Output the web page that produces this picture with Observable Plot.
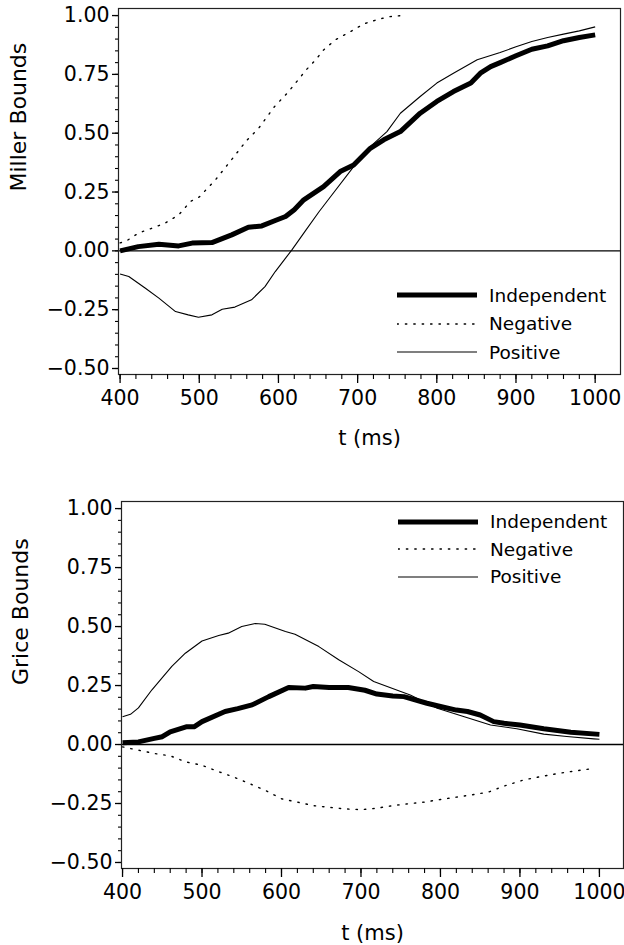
<!DOCTYPE html>
<html>
<head>
<meta charset="utf-8">
<script src="https://cdn.jsdelivr.net/npm/d3@7"></script>
<script src="https://cdn.jsdelivr.net/npm/@observablehq/plot@0.6"></script>
<style>
  body { margin: 0; background: #fff; font-family: "DejaVu Sans", sans-serif; }
  .panel { position: relative; width: 624px; }
  .panel svg text { font-family: "DejaVu Sans", sans-serif !important; }
  .legend { position: absolute; font-size: 18.5px; color: #000; }
  .legend .row { display: flex; align-items: center; }
  .legend svg { display: block; margin-right: 12px; }
</style>
</head>
<body>
<div id="topPanel" class="panel"></div>
<div id="bottomPanel" class="panel"></div>
<script>
// ---- tick values ----
const yMajor = [-0.5, -0.25, 0, 0.25, 0.5, 0.75, 1.0];
const yMinor = d3.range(-0.5, 1.0001, 0.05);
const xMajor = [400, 500, 600, 700, 800, 900, 1000];
const xMinor = d3.range(400, 1001, 20);
const seriesNames = ["Independent", "Negative", "Positive"];
const xTitle = "t (ms)";
const yTitles = ["Miller Bounds", "Grice Bounds"];

// ---- Miller bounds (top panel) ----
const millerIndepT = [400, 423, 449, 474, 491, 516, 541, 562, 579, 596, 609, 620, 632, 657, 678, 695, 716, 733, 754, 779, 800, 821, 843, 855, 868, 880, 900, 920, 940, 960, 980, 1000];
const millerIndepV = [0.000, 0.018, 0.028, 0.021, 0.033, 0.035, 0.068, 0.100, 0.106, 0.129, 0.146, 0.175, 0.217, 0.273, 0.337, 0.365, 0.436, 0.472, 0.507, 0.585, 0.635, 0.677, 0.713, 0.755, 0.783, 0.800, 0.829, 0.857, 0.871, 0.893, 0.907, 0.918];

const millerNegT = [400, 407, 423, 440, 457, 474, 489, 500, 520, 540, 560, 575, 595, 613, 619, 625, 635, 647, 657, 672, 689, 708, 727, 740, 755];
const millerNegV = [0.034, 0.040, 0.075, 0.096, 0.118, 0.153, 0.210, 0.229, 0.300, 0.384, 0.470, 0.521, 0.613, 0.677, 0.703, 0.727, 0.769, 0.812, 0.854, 0.897, 0.928, 0.965, 0.985, 0.995, 1.000];

const millerPosT = [400, 411, 432, 449, 470, 486, 499, 516, 529, 545, 566, 583, 596, 609, 617, 634, 651, 666, 695, 716, 737, 754, 779, 800, 821, 851, 880, 900, 920, 940, 960, 980, 1000];
const millerPosV = [-0.098, -0.109, -0.159, -0.201, -0.258, -0.272, -0.282, -0.272, -0.248, -0.239, -0.208, -0.152, -0.088, -0.031, 0.004, 0.085, 0.165, 0.231, 0.358, 0.443, 0.507, 0.585, 0.656, 0.713, 0.755, 0.812, 0.843, 0.867, 0.890, 0.907, 0.921, 0.935, 0.952];

// ---- Grice bounds (bottom panel) ----
const griceIndepT = [400, 420, 440, 450, 460, 480, 490, 500, 529, 545, 563, 584, 609, 630, 640, 660, 684, 705, 720, 740, 754, 783, 800, 820, 834, 850, 867, 880, 900, 930, 964, 1000];
const griceIndepV = [0.007, 0.011, 0.026, 0.033, 0.054, 0.075, 0.075, 0.097, 0.140, 0.152, 0.168, 0.203, 0.242, 0.239, 0.246, 0.242, 0.242, 0.230, 0.214, 0.206, 0.203, 0.175, 0.161, 0.146, 0.140, 0.125, 0.097, 0.090, 0.083, 0.067, 0.052, 0.043];

const griceNegT = [400, 420, 440, 460, 480, 500, 520, 540, 560, 580, 600, 620, 640, 660, 680, 700, 720, 740, 760, 780, 800, 820, 840, 860, 880, 905, 934, 955, 989];
const griceNegV = [-0.010, -0.024, -0.038, -0.048, -0.074, -0.088, -0.114, -0.138, -0.166, -0.195, -0.230, -0.244, -0.259, -0.266, -0.273, -0.276, -0.270, -0.259, -0.251, -0.244, -0.233, -0.223, -0.213, -0.202, -0.176, -0.150, -0.131, -0.119, -0.103];

const gricePosT = [400, 410, 420, 437, 462, 479, 500, 521, 533, 550, 567, 579, 605, 617, 647, 672, 697, 716, 750, 762, 796, 829, 863, 896, 930, 959, 993, 1000];
const gricePosV = [0.118, 0.128, 0.155, 0.232, 0.331, 0.387, 0.439, 0.462, 0.472, 0.500, 0.513, 0.510, 0.479, 0.467, 0.415, 0.359, 0.309, 0.267, 0.225, 0.210, 0.154, 0.119, 0.083, 0.067, 0.044, 0.034, 0.024, 0.022];

const styles = {
  Independent: {stroke: "#000", strokeWidth: 5, strokeDasharray: null},
  Negative: {stroke: "#000", strokeWidth: 1.4, strokeDasharray: "1.4,7"},
  Positive: {stroke: "#000", strokeWidth: 1.1, strokeDasharray: null}
};

function rows(ts, vs) { return ts.map((t, i) => ({t, v: vs[i]})); }

function makePanel(cfg) {
  const lineMarks = seriesNames.map(name => {
    const s = styles[name];
    return Plot.line(cfg.data[name], {x: "t", y: "v", stroke: s.stroke, strokeWidth: s.strokeWidth,
      strokeDasharray: s.strokeDasharray || undefined, strokeLinejoin: "round", strokeLinecap: name === "Negative" ? "round" : "butt"});
  });
  const font = {fontFamily: "DejaVu Sans", fontSize: 20.5};
  return Plot.plot({
    width: 624,
    height: cfg.height,
    marginTop: cfg.mt, marginBottom: cfg.mb, marginLeft: cfg.ml, marginRight: cfg.mr,
    style: {fontFamily: "DejaVu Sans", fontSize: "20px", background: "#fff", color: "#000", overflow: "visible"},
    x: {domain: cfg.xDomain},
    y: {domain: [-0.5255, 1.03]},
    marks: [
      Plot.ruleY([0], {stroke: "#000", strokeWidth: 1.3}),
      ...lineMarks,
      Plot.frame({stroke: "#222", strokeWidth: 1.2}),
      Plot.axisY(yMinor, {tickSize: 3, fill: "none", strokeWidth: 1.1}),
      Plot.axisY(yMajor, {...font, tickSize: 6, tickPadding: 3, strokeWidth: 1.3, tickFormat: d3.format(".2f"), label: null}),
      Plot.axisX(xMinor, {tickSize: 5, fill: "none", strokeWidth: 1.1}),
      Plot.axisX(xMajor, {...font, tickSize: 9, tickPadding: 7, strokeWidth: 1.3, tickFormat: d3.format("d"), label: null}),
      Plot.text([cfg.ylabel], {frameAnchor: "left", rotate: -90, dx: cfg.ylabelDx, fontSize: 22, fill: "#000"}),
      Plot.text([xTitle], {frameAnchor: "bottom", dy: cfg.xlabelDy, fontSize: 21, fill: "#000"})
    ]
  });
}

function makeLegend(left, topPx, rowH) {
  const div = document.createElement("div");
  div.className = "legend";
  div.style.left = left + "px";
  div.style.top = topPx + "px";
  for (const name of seriesNames) {
    const s = styles[name];
    const row = document.createElement("div");
    row.className = "row";
    row.style.height = rowH + "px";
    const ns = "http://www.w3.org/2000/svg";
    const svg = document.createElementNS(ns, "svg");
    svg.setAttribute("width", 80); svg.setAttribute("height", 10);
    const ln = document.createElementNS(ns, "line");
    ln.setAttribute("x1", 0); ln.setAttribute("x2", 80);
    ln.setAttribute("y1", 5); ln.setAttribute("y2", 5);
    ln.setAttribute("stroke", s.stroke);
    ln.setAttribute("stroke-width", s.strokeWidth);
    if (s.strokeDasharray) { ln.setAttribute("stroke-dasharray", s.strokeDasharray); ln.setAttribute("stroke-linecap", "round"); }
    svg.appendChild(ln);
    const span = document.createElement("span");
    span.textContent = name;
    row.appendChild(svg); row.appendChild(span);
    div.appendChild(row);
  }
  return div;
}

const topEl = document.getElementById("topPanel");
topEl.style.height = "460px";
topEl.appendChild(makePanel({
  height: 460, mt: 8, mb: 86, ml: 118, mr: 4, xDomain: [398, 1032], ylabel: yTitles[0], ylabelDx: -100, xlabelDy: 70,
  data: {Independent: rows(millerIndepT, millerIndepV), Negative: rows(millerNegT, millerNegV), Positive: rows(millerPosT, millerPosV)}
}));
topEl.appendChild(makeLegend(397, 281, 28.5));

const bottomEl = document.getElementById("bottomPanel");
bottomEl.style.height = "485px";
bottomEl.appendChild(makePanel({
  height: 485, mt: 41, mb: 77, ml: 121, mr: 1, xDomain: [398.7, 1030.3], ylabel: yTitles[1], ylabelDx: -101, xlabelDy: 71,
  data: {Independent: rows(griceIndepT, griceIndepV), Negative: rows(griceNegT, griceNegV), Positive: rows(gricePosT, gricePosV)}
}));
bottomEl.appendChild(makeLegend(398, 48, 27.5));
</script>
</body>
</html>
